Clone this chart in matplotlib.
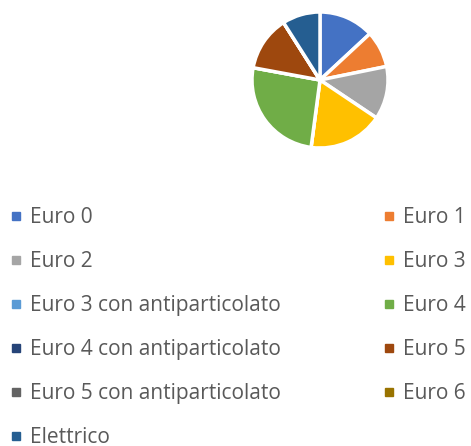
import matplotlib.pyplot as plt
from matplotlib.lines import Line2D

plt.rcParams['font.family'] = ['Open Sans', 'DejaVu Sans']

categories = ["Euro 0", "Euro 1", "Euro 2", "Euro 3", "Euro 3 con antiparticolato",
              "Euro 4", "Euro 4 con antiparticolato", "Euro 5",
              "Euro 5 con antiparticolato", "Euro 6", "Elettrico"]
shares = [13.1, 8.7, 12.6, 17.7, 0.0, 25.8, 0.0, 13.1, 0.0, 0.0, 9.0]
colors = ["#4472C4", "#ED7D31", "#A5A5A5", "#FFC000", "#5B9BD5", "#70AD47",
          "#264478", "#9E480E", "#636363", "#997300", "#255E91"]

W, H = 471, 446
fig = plt.figure(figsize=(W / 100, H / 100), dpi=100)

# pie placed near the top right
cx, cy, r = 320, 80, 68
ax = fig.add_axes([(cx - r) / W, 1 - (cy + r) / H, 2 * r / W, 2 * r / H])
ax.pie(shares, colors=colors, startangle=90, counterclock=False,
       wedgeprops=dict(edgecolor="white", linewidth=2.5))
ax.set_xlim(-1, 1)
ax.set_ylim(-1, 1)
ax.set_aspect("equal")
ax.axis("off")

# legend is row-major in the original, matplotlib fills by column
order = list(range(0, len(categories), 2)) + list(range(1, len(categories), 2))
handles = [Line2D([], [], marker="s", linestyle="none", markersize=6,
                  markerfacecolor=colors[i], markeredgecolor=colors[i]) for i in order]
labels = [categories[i] for i in order]
leg = fig.legend(handles, labels, ncol=2, loc="upper left",
                 bbox_to_anchor=(2 / W, 1 - 199 / H), frameon=False,
                 fontsize=15, handlelength=0.55, handletextpad=0.4,
                 labelspacing=1.1, columnspacing=4.9, borderaxespad=0)
for t in leg.get_texts():
    t.set_color("#595959")

fig.savefig("out.png", dpi=100)
